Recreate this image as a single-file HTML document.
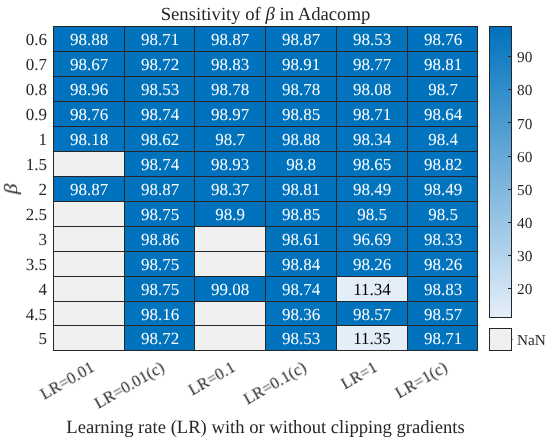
<!DOCTYPE html>
<html><head><meta charset="utf-8"><style>
html,body{margin:0;padding:0;background:#fff;}
body{width:550px;height:442px;position:relative;overflow:hidden;text-rendering:geometricPrecision;font-family:"Liberation Serif",serif;color:#262626;}
div{position:absolute;white-space:nowrap;will-change:transform;}
.c{text-align:center;font-size:17px;}
.c span,.yt span{position:relative;}
.yt{text-align:right;font-size:17px;width:40px;}
.xt{text-align:right;font-size:16.5px;width:120px;height:20px;line-height:20px;transform-origin:100% 50%;transform:rotate(-30deg);}
.cb{font-size:15.3px;height:20px;line-height:20px;}
.l{background:#262626;}
</style></head><body>

<div style="left:54px;top:27px;width:70px;height:24px;background:rgb(1,114,189)"></div>
<div class="c" style="left:54.00px;top:28.20px;width:70px;height:24px;line-height:24px;color:#fff">98.88</div>
<div style="left:125px;top:27px;width:69px;height:24px;background:rgb(1,115,189)"></div>
<div class="c" style="left:124.50px;top:28.20px;width:70px;height:24px;line-height:24px;color:#fff">98.71</div>
<div style="left:195px;top:27px;width:70px;height:24px;background:rgb(1,114,189)"></div>
<div class="c" style="left:195.00px;top:28.20px;width:70px;height:24px;line-height:24px;color:#fff">98.87</div>
<div style="left:266px;top:27px;width:70px;height:24px;background:rgb(1,114,189)"></div>
<div class="c" style="left:266.00px;top:28.20px;width:70px;height:24px;line-height:24px;color:#fff">98.87</div>
<div style="left:337px;top:27px;width:70px;height:24px;background:rgb(1,115,189)"></div>
<div class="c" style="left:337.00px;top:28.20px;width:70px;height:24px;line-height:24px;color:#fff">98.53</div>
<div style="left:408px;top:27px;width:69px;height:24px;background:rgb(1,114,189)"></div>
<div class="c" style="left:407.50px;top:28.20px;width:70px;height:24px;line-height:24px;color:#fff">98.76</div>
<div style="left:54px;top:52px;width:70px;height:24px;background:rgb(1,115,189)"></div>
<div class="c" style="left:54.00px;top:53.20px;width:70px;height:24px;line-height:24px;color:#fff">98.67</div>
<div style="left:125px;top:52px;width:69px;height:24px;background:rgb(1,115,189)"></div>
<div class="c" style="left:124.50px;top:53.20px;width:70px;height:24px;line-height:24px;color:#fff">98.72</div>
<div style="left:195px;top:52px;width:70px;height:24px;background:rgb(1,114,189)"></div>
<div class="c" style="left:195.00px;top:53.20px;width:70px;height:24px;line-height:24px;color:#fff">98.83</div>
<div style="left:266px;top:52px;width:70px;height:24px;background:rgb(0,114,189)"></div>
<div class="c" style="left:266.00px;top:53.20px;width:70px;height:24px;line-height:24px;color:#fff">98.91</div>
<div style="left:337px;top:52px;width:70px;height:24px;background:rgb(1,114,189)"></div>
<div class="c" style="left:337.00px;top:53.20px;width:70px;height:24px;line-height:24px;color:#fff">98.77</div>
<div style="left:408px;top:52px;width:69px;height:24px;background:rgb(1,114,189)"></div>
<div class="c" style="left:407.50px;top:53.20px;width:70px;height:24px;line-height:24px;color:#fff">98.81</div>
<div style="left:54px;top:77px;width:70px;height:24px;background:rgb(0,114,189)"></div>
<div class="c" style="left:54.00px;top:78.20px;width:70px;height:24px;line-height:24px;color:#fff">98.96</div>
<div style="left:125px;top:77px;width:69px;height:24px;background:rgb(1,115,189)"></div>
<div class="c" style="left:124.50px;top:78.20px;width:70px;height:24px;line-height:24px;color:#fff">98.53</div>
<div style="left:195px;top:77px;width:70px;height:24px;background:rgb(1,114,189)"></div>
<div class="c" style="left:195.00px;top:78.20px;width:70px;height:24px;line-height:24px;color:#fff">98.78</div>
<div style="left:266px;top:77px;width:70px;height:24px;background:rgb(1,114,189)"></div>
<div class="c" style="left:266.00px;top:78.20px;width:70px;height:24px;line-height:24px;color:#fff">98.78</div>
<div style="left:337px;top:77px;width:70px;height:24px;background:rgb(3,115,190)"></div>
<div class="c" style="left:337.00px;top:78.20px;width:70px;height:24px;line-height:24px;color:#fff">98.08</div>
<div style="left:408px;top:77px;width:69px;height:24px;background:rgb(1,115,189)"></div>
<div class="c" style="left:407.50px;top:78.20px;width:70px;height:24px;line-height:24px;color:#fff">98.7</div>
<div style="left:54px;top:102px;width:70px;height:24px;background:rgb(1,114,189)"></div>
<div class="c" style="left:54.00px;top:103.20px;width:70px;height:24px;line-height:24px;color:#fff">98.76</div>
<div style="left:125px;top:102px;width:69px;height:24px;background:rgb(1,114,189)"></div>
<div class="c" style="left:124.50px;top:103.20px;width:70px;height:24px;line-height:24px;color:#fff">98.74</div>
<div style="left:195px;top:102px;width:70px;height:24px;background:rgb(0,114,189)"></div>
<div class="c" style="left:195.00px;top:103.20px;width:70px;height:24px;line-height:24px;color:#fff">98.97</div>
<div style="left:266px;top:102px;width:70px;height:24px;background:rgb(1,114,189)"></div>
<div class="c" style="left:266.00px;top:103.20px;width:70px;height:24px;line-height:24px;color:#fff">98.85</div>
<div style="left:337px;top:102px;width:70px;height:24px;background:rgb(1,115,189)"></div>
<div class="c" style="left:337.00px;top:103.20px;width:70px;height:24px;line-height:24px;color:#fff">98.71</div>
<div style="left:408px;top:102px;width:69px;height:24px;background:rgb(1,115,189)"></div>
<div class="c" style="left:407.50px;top:103.20px;width:70px;height:24px;line-height:24px;color:#fff">98.64</div>
<div style="left:54px;top:127px;width:70px;height:24px;background:rgb(2,115,190)"></div>
<div class="c" style="left:54.00px;top:128.20px;width:70px;height:24px;line-height:24px;color:#fff">98.18</div>
<div style="left:125px;top:127px;width:69px;height:24px;background:rgb(1,115,189)"></div>
<div class="c" style="left:124.50px;top:128.20px;width:70px;height:24px;line-height:24px;color:#fff">98.62</div>
<div style="left:195px;top:127px;width:70px;height:24px;background:rgb(1,115,189)"></div>
<div class="c" style="left:195.00px;top:128.20px;width:70px;height:24px;line-height:24px;color:#fff">98.7</div>
<div style="left:266px;top:127px;width:70px;height:24px;background:rgb(1,114,189)"></div>
<div class="c" style="left:266.00px;top:128.20px;width:70px;height:24px;line-height:24px;color:#fff">98.88</div>
<div style="left:337px;top:127px;width:70px;height:24px;background:rgb(2,115,189)"></div>
<div class="c" style="left:337.00px;top:128.20px;width:70px;height:24px;line-height:24px;color:#fff">98.34</div>
<div style="left:408px;top:127px;width:69px;height:24px;background:rgb(2,115,189)"></div>
<div class="c" style="left:407.50px;top:128.20px;width:70px;height:24px;line-height:24px;color:#fff">98.4</div>
<div style="left:54px;top:152px;width:70px;height:24px;background:rgb(240,240,240)"></div>
<div style="left:125px;top:152px;width:69px;height:24px;background:rgb(1,114,189)"></div>
<div class="c" style="left:124.50px;top:153.20px;width:70px;height:24px;line-height:24px;color:#fff">98.74</div>
<div style="left:195px;top:152px;width:70px;height:24px;background:rgb(0,114,189)"></div>
<div class="c" style="left:195.00px;top:153.20px;width:70px;height:24px;line-height:24px;color:#fff">98.93</div>
<div style="left:266px;top:152px;width:70px;height:24px;background:rgb(1,114,189)"></div>
<div class="c" style="left:266.00px;top:153.20px;width:70px;height:24px;line-height:24px;color:#fff">98.8</div>
<div style="left:337px;top:152px;width:70px;height:24px;background:rgb(1,115,189)"></div>
<div class="c" style="left:337.00px;top:153.20px;width:70px;height:24px;line-height:24px;color:#fff">98.65</div>
<div style="left:408px;top:152px;width:69px;height:24px;background:rgb(1,114,189)"></div>
<div class="c" style="left:407.50px;top:153.20px;width:70px;height:24px;line-height:24px;color:#fff">98.82</div>
<div style="left:54px;top:177px;width:70px;height:24px;background:rgb(1,114,189)"></div>
<div class="c" style="left:54.00px;top:178.20px;width:70px;height:24px;line-height:24px;color:#fff">98.87</div>
<div style="left:125px;top:177px;width:69px;height:24px;background:rgb(1,114,189)"></div>
<div class="c" style="left:124.50px;top:178.20px;width:70px;height:24px;line-height:24px;color:#fff">98.87</div>
<div style="left:195px;top:177px;width:70px;height:24px;background:rgb(2,115,189)"></div>
<div class="c" style="left:195.00px;top:178.20px;width:70px;height:24px;line-height:24px;color:#fff">98.37</div>
<div style="left:266px;top:177px;width:70px;height:24px;background:rgb(1,114,189)"></div>
<div class="c" style="left:266.00px;top:178.20px;width:70px;height:24px;line-height:24px;color:#fff">98.81</div>
<div style="left:337px;top:177px;width:70px;height:24px;background:rgb(2,115,189)"></div>
<div class="c" style="left:337.00px;top:178.20px;width:70px;height:24px;line-height:24px;color:#fff">98.49</div>
<div style="left:408px;top:177px;width:69px;height:24px;background:rgb(2,115,189)"></div>
<div class="c" style="left:407.50px;top:178.20px;width:70px;height:24px;line-height:24px;color:#fff">98.49</div>
<div style="left:54px;top:202px;width:70px;height:24px;background:rgb(240,240,240)"></div>
<div style="left:125px;top:202px;width:69px;height:24px;background:rgb(1,114,189)"></div>
<div class="c" style="left:124.50px;top:203.20px;width:70px;height:24px;line-height:24px;color:#fff">98.75</div>
<div style="left:195px;top:202px;width:70px;height:24px;background:rgb(0,114,189)"></div>
<div class="c" style="left:195.00px;top:203.20px;width:70px;height:24px;line-height:24px;color:#fff">98.9</div>
<div style="left:266px;top:202px;width:70px;height:24px;background:rgb(1,114,189)"></div>
<div class="c" style="left:266.00px;top:203.20px;width:70px;height:24px;line-height:24px;color:#fff">98.85</div>
<div style="left:337px;top:202px;width:70px;height:24px;background:rgb(2,115,189)"></div>
<div class="c" style="left:337.00px;top:203.20px;width:70px;height:24px;line-height:24px;color:#fff">98.5</div>
<div style="left:408px;top:202px;width:69px;height:24px;background:rgb(2,115,189)"></div>
<div class="c" style="left:407.50px;top:203.20px;width:70px;height:24px;line-height:24px;color:#fff">98.5</div>
<div style="left:54px;top:227px;width:70px;height:24px;background:rgb(240,240,240)"></div>
<div style="left:125px;top:227px;width:69px;height:24px;background:rgb(1,114,189)"></div>
<div class="c" style="left:124.50px;top:228.20px;width:70px;height:24px;line-height:24px;color:#fff">98.86</div>
<div style="left:195px;top:227px;width:70px;height:24px;background:rgb(240,240,240)"></div>
<div style="left:266px;top:227px;width:70px;height:24px;background:rgb(1,115,189)"></div>
<div class="c" style="left:266.00px;top:228.20px;width:70px;height:24px;line-height:24px;color:#fff">98.61</div>
<div style="left:337px;top:227px;width:70px;height:24px;background:rgb(6,117,191)"></div>
<div class="c" style="left:337.00px;top:228.20px;width:70px;height:24px;line-height:24px;color:#fff">96.69</div>
<div style="left:408px;top:227px;width:69px;height:24px;background:rgb(2,115,190)"></div>
<div class="c" style="left:407.50px;top:228.20px;width:70px;height:24px;line-height:24px;color:#fff">98.33</div>
<div style="left:54px;top:252px;width:70px;height:24px;background:rgb(240,240,240)"></div>
<div style="left:125px;top:252px;width:69px;height:24px;background:rgb(1,114,189)"></div>
<div class="c" style="left:124.50px;top:253.20px;width:70px;height:24px;line-height:24px;color:#fff">98.75</div>
<div style="left:195px;top:252px;width:70px;height:24px;background:rgb(240,240,240)"></div>
<div style="left:266px;top:252px;width:70px;height:24px;background:rgb(1,114,189)"></div>
<div class="c" style="left:266.00px;top:253.20px;width:70px;height:24px;line-height:24px;color:#fff">98.84</div>
<div style="left:337px;top:252px;width:70px;height:24px;background:rgb(2,115,190)"></div>
<div class="c" style="left:337.00px;top:253.20px;width:70px;height:24px;line-height:24px;color:#fff">98.26</div>
<div style="left:408px;top:252px;width:69px;height:24px;background:rgb(2,115,190)"></div>
<div class="c" style="left:407.50px;top:253.20px;width:70px;height:24px;line-height:24px;color:#fff">98.26</div>
<div style="left:54px;top:277px;width:70px;height:24px;background:rgb(240,240,240)"></div>
<div style="left:125px;top:277px;width:69px;height:24px;background:rgb(1,114,189)"></div>
<div class="c" style="left:124.50px;top:278.20px;width:70px;height:24px;line-height:24px;color:#fff">98.75</div>
<div style="left:195px;top:277px;width:70px;height:24px;background:rgb(0,114,189)"></div>
<div class="c" style="left:195.00px;top:278.20px;width:70px;height:24px;line-height:24px;color:#fff">99.08</div>
<div style="left:266px;top:277px;width:70px;height:24px;background:rgb(1,114,189)"></div>
<div class="c" style="left:266.00px;top:278.20px;width:70px;height:24px;line-height:24px;color:#fff">98.74</div>
<div style="left:337px;top:277px;width:70px;height:24px;background:rgb(228,238,248)"></div>
<div class="c" style="left:337.00px;top:278.20px;width:70px;height:24px;line-height:24px;color:#000">11.34</div>
<div style="left:408px;top:277px;width:69px;height:24px;background:rgb(1,114,189)"></div>
<div class="c" style="left:407.50px;top:278.20px;width:70px;height:24px;line-height:24px;color:#fff">98.83</div>
<div style="left:54px;top:302px;width:70px;height:23px;background:rgb(240,240,240)"></div>
<div style="left:125px;top:302px;width:69px;height:23px;background:rgb(2,115,190)"></div>
<div class="c" style="left:124.50px;top:302.70px;width:70px;height:24px;line-height:24px;color:#fff">98.16</div>
<div style="left:195px;top:302px;width:70px;height:23px;background:rgb(240,240,240)"></div>
<div style="left:266px;top:302px;width:70px;height:23px;background:rgb(2,115,189)"></div>
<div class="c" style="left:266.00px;top:302.70px;width:70px;height:24px;line-height:24px;color:#fff">98.36</div>
<div style="left:337px;top:302px;width:70px;height:23px;background:rgb(1,115,189)"></div>
<div class="c" style="left:337.00px;top:302.70px;width:70px;height:24px;line-height:24px;color:#fff">98.57</div>
<div style="left:408px;top:302px;width:69px;height:23px;background:rgb(1,115,189)"></div>
<div class="c" style="left:407.50px;top:302.70px;width:70px;height:24px;line-height:24px;color:#fff">98.57</div>
<div style="left:54px;top:326px;width:70px;height:24px;background:rgb(240,240,240)"></div>
<div style="left:125px;top:326px;width:69px;height:24px;background:rgb(1,115,189)"></div>
<div class="c" style="left:124.50px;top:327.20px;width:70px;height:24px;line-height:24px;color:#fff">98.72</div>
<div style="left:195px;top:326px;width:70px;height:24px;background:rgb(240,240,240)"></div>
<div style="left:266px;top:326px;width:70px;height:24px;background:rgb(1,115,189)"></div>
<div class="c" style="left:266.00px;top:327.20px;width:70px;height:24px;line-height:24px;color:#fff">98.53</div>
<div style="left:337px;top:326px;width:70px;height:24px;background:rgb(228,238,248)"></div>
<div class="c" style="left:337.00px;top:327.20px;width:70px;height:24px;line-height:24px;color:#000">11.35</div>
<div style="left:408px;top:326px;width:69px;height:24px;background:rgb(1,115,189)"></div>
<div class="c" style="left:407.50px;top:327.20px;width:70px;height:24px;line-height:24px;color:#fff">98.71</div>
<div class="l" style="left:53px;top:26px;width:1px;height:325px"></div>
<div class="l" style="left:124px;top:26px;width:1px;height:325px"></div>
<div class="l" style="left:194px;top:26px;width:1px;height:325px"></div>
<div class="l" style="left:265px;top:26px;width:1px;height:325px"></div>
<div class="l" style="left:336px;top:26px;width:1px;height:325px"></div>
<div class="l" style="left:407px;top:26px;width:1px;height:325px"></div>
<div class="l" style="left:477px;top:26px;width:1px;height:325px"></div>
<div class="l" style="left:53px;top:26px;width:425px;height:1px"></div>
<div class="l" style="left:53px;top:51px;width:425px;height:1px"></div>
<div class="l" style="left:53px;top:76px;width:425px;height:1px"></div>
<div class="l" style="left:53px;top:101px;width:425px;height:1px"></div>
<div class="l" style="left:53px;top:126px;width:425px;height:1px"></div>
<div class="l" style="left:53px;top:151px;width:425px;height:1px"></div>
<div class="l" style="left:53px;top:176px;width:425px;height:1px"></div>
<div class="l" style="left:53px;top:201px;width:425px;height:1px"></div>
<div class="l" style="left:53px;top:226px;width:425px;height:1px"></div>
<div class="l" style="left:53px;top:251px;width:425px;height:1px"></div>
<div class="l" style="left:53px;top:276px;width:425px;height:1px"></div>
<div class="l" style="left:53px;top:301px;width:425px;height:1px"></div>
<div class="l" style="left:53px;top:325px;width:425px;height:1px"></div>
<div class="l" style="left:53px;top:350px;width:425px;height:1px"></div>
<div style="left:490px;top:27px;width:21px;height:290px;background:linear-gradient(to top, rgb(228,238,248), rgb(0,114,189))"></div>
<div style="left:489px;top:26px;width:21px;height:290px;border:1px solid #262626"></div>
<div class="l" style="left:508px;top:288.28px;width:3px;height:1px"></div>
<div class="cb" style="left:517px;top:280.48px">20</div>
<div class="l" style="left:508px;top:255.11px;width:3px;height:1px"></div>
<div class="cb" style="left:517px;top:247.31px">30</div>
<div class="l" style="left:508px;top:221.95px;width:3px;height:1px"></div>
<div class="cb" style="left:517px;top:214.15px">40</div>
<div class="l" style="left:508px;top:188.78px;width:3px;height:1px"></div>
<div class="cb" style="left:517px;top:180.98px">50</div>
<div class="l" style="left:508px;top:155.61px;width:3px;height:1px"></div>
<div class="cb" style="left:517px;top:147.81px">60</div>
<div class="l" style="left:508px;top:122.45px;width:3px;height:1px"></div>
<div class="cb" style="left:517px;top:114.65px">70</div>
<div class="l" style="left:508px;top:89.28px;width:3px;height:1px"></div>
<div class="cb" style="left:517px;top:81.48px">80</div>
<div class="l" style="left:508px;top:56.11px;width:3px;height:1px"></div>
<div class="cb" style="left:517px;top:48.31px">90</div>
<div style="left:489px;top:328px;width:21px;height:21px;border:1px solid #262626;background:rgb(240,240,240)"></div>
<div class="l" style="left:512px;top:339px;width:1px;height:1px;opacity:0.6"></div>
<div class="cb" style="left:517px;top:331.20px">NaN</div>
<div class="yt" style="left:7px;top:28.20px;height:24px;line-height:24px">0.6</div>
<div class="yt" style="left:7px;top:53.20px;height:24px;line-height:24px">0.7</div>
<div class="yt" style="left:7px;top:78.20px;height:24px;line-height:24px">0.8</div>
<div class="yt" style="left:7px;top:103.20px;height:24px;line-height:24px">0.9</div>
<div class="yt" style="left:7px;top:128.20px;height:24px;line-height:24px">1</div>
<div class="yt" style="left:7px;top:153.20px;height:24px;line-height:24px">1.5</div>
<div class="yt" style="left:7px;top:178.20px;height:24px;line-height:24px">2</div>
<div class="yt" style="left:7px;top:203.20px;height:24px;line-height:24px">2.5</div>
<div class="yt" style="left:7px;top:228.20px;height:24px;line-height:24px">3</div>
<div class="yt" style="left:7px;top:253.20px;height:24px;line-height:24px">3.5</div>
<div class="yt" style="left:7px;top:278.20px;height:24px;line-height:24px">4</div>
<div class="yt" style="left:7px;top:302.70px;height:24px;line-height:24px">4.5</div>
<div class="yt" style="left:7px;top:327.20px;height:24px;line-height:24px">5</div>
<div class="xt" style="left:-27.10px;top:356.30px">LR=0.01</div>
<div class="xt" style="left:43.40px;top:356.30px">LR=0.01(c)</div>
<div class="xt" style="left:113.90px;top:356.30px">LR=0.1</div>
<div class="xt" style="left:184.90px;top:356.30px">LR=0.1(c)</div>
<div class="xt" style="left:255.90px;top:356.30px">LR=1</div>
<div class="xt" style="left:326.40px;top:356.30px">LR=1(c)</div>
<div style="left:0;width:531.0px;text-align:center;top:1.9px;font-size:18.7px;line-height:26px;">Sensitivity of <i>β</i> in Adacomp</div>
<div style="left:0.2px;width:531.0px;text-align:center;top:415.8px;font-size:18.62px;line-height:24px;">Learning rate (LR) with or without clipping gradients</div>
<div style="left:-8.00px;top:176.60px;width:40px;height:24px;line-height:24px;text-align:center;font-size:18.7px;transform:rotate(-90deg) scaleX(1.12);"><i>β</i></div>
</body></html>
